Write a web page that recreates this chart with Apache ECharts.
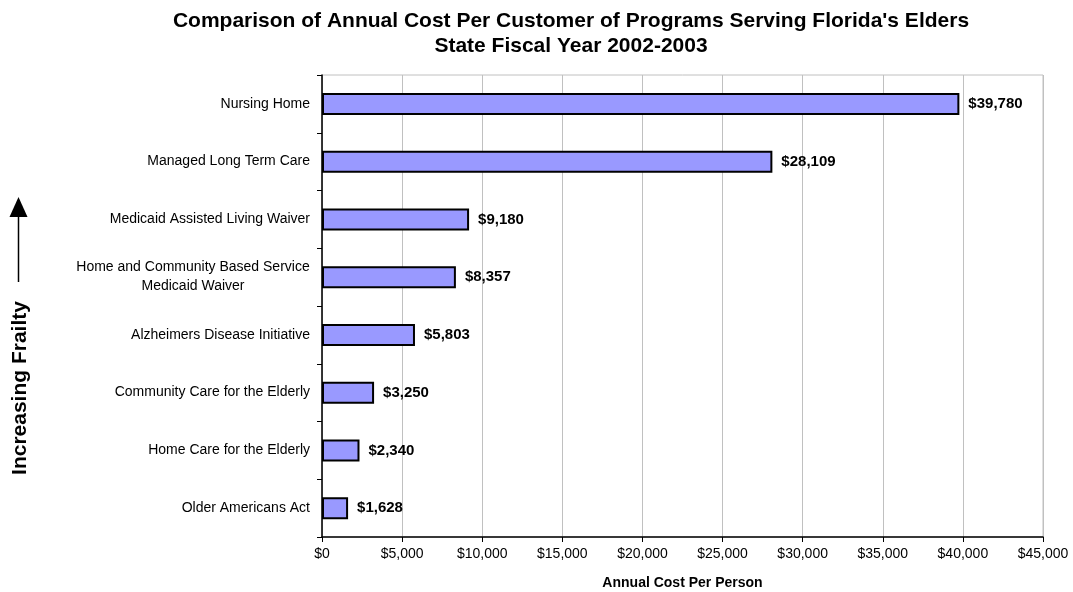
<!DOCTYPE html>
<html>
<head>
<meta charset="utf-8">
<script src="https://cdn.jsdelivr.net/npm/echarts@6/dist/echarts.min.js"></script>
<style>html,body{margin:0;padding:0;background:#fff}#c{width:1073px;height:592px}</style>
</head>
<body>
<div id="c"></div>
<script>
const categories = [
  "Nursing Home",
  "Managed Long Term Care",
  "Medicaid Assisted Living Waiver",
  "Home and Community Based Service\nMedicaid Waiver",
  "Alzheimers Disease Initiative",
  "Community Care for the Elderly",
  "Home Care for the Elderly",
  "Older Americans Act"
];
const costs = [39780, 28109, 9180, 8357, 5803, 3250, 2340, 1628];
const xTicks = { min: 0, max: 45000, interval: 5000 };
const titleLines = ["Comparison of Annual Cost Per Customer of Programs Serving Florida's Elders", "State Fiscal Year 2002-2003"];
const xAxisName = "Annual Cost Per Person";
const frailtyLabel = "Increasing Frailty";

const FONT = "Arial, 'Liberation Sans', sans-serif";
const CAT_SIZE = 14;
const fmt = v => '$' + v.toLocaleString('en-US');

const cv = document.createElement('canvas').getContext('2d');
cv.font = CAT_SIZE + 'px ' + FONT;
const richStyles = {};
categories.forEach(c => {
  const lines = c.split('\n');
  if (lines.length > 1) {
    const w = Math.ceil(Math.max(...lines.map(l => cv.measureText(l).width)));
    richStyles['c' + w] = { width: w, align: 'center', fontFamily: FONT, fontSize: CAT_SIZE, color: '#000', lineHeight: 19 };
  }
});

const chart = echarts.init(document.getElementById('c'));
chart.setOption({
  animation: false,
  title: {
    text: titleLines.join('\n'),
    left: 566, top: 4, textAlign: 'center',
    textStyle: { fontFamily: FONT, fontSize: 21, fontWeight: 'bold', color: '#000', lineHeight: 25 }
  },
  grid: { left: 322, right: 30, top: 75, bottom: 55, show: true, borderColor: '#c0c0c0', borderWidth: 1,
          containLabel: false, outerBoundsMode: 'none' },
  xAxis: {
    type: 'value', min: xTicks.min, max: xTicks.max, interval: xTicks.interval,
    name: xAxisName, nameLocation: 'middle', nameGap: 39,
    nameTextStyle: { fontFamily: FONT, fontSize: 14, fontWeight: 'bold', color: '#000' },
    axisLine: { show: true, lineStyle: { color: '#000', width: 1.5 } },
    axisTick: { show: true, length: 5, lineStyle: { color: '#000' } },
    axisLabel: { formatter: v => fmt(v), fontFamily: FONT, fontSize: 14, color: '#000', margin: 10 },
    splitLine: { show: true, lineStyle: { color: '#c0c0c0', width: 1 } }
  },
  yAxis: {
    type: 'category', data: categories, inverse: true,
    axisLine: { show: true, lineStyle: { color: '#000', width: 1.5 } },
    axisTick: { show: true, length: 5, lineStyle: { color: '#000' } },
    axisLabel: {
      fontFamily: FONT, fontSize: CAT_SIZE, color: '#000', margin: 12, lineHeight: 19,
      formatter: v => {
        const lines = v.split('\n');
        if (lines.length === 1) return v;
        const w = Math.ceil(Math.max(...lines.map(l => cv.measureText(l).width)));
        return lines.map(l => '{c' + w + '|' + l + '}').join('\n');
      },
      rich: richStyles
    },
    splitLine: { show: false }
  },
  series: [{
    type: 'bar', data: costs, barWidth: 22,
    itemStyle: { color: '#9999ff', borderColor: '#000', borderWidth: 2 },
    label: { show: true, position: 'right', distance: 9, formatter: p => fmt(p.value),
      fontFamily: FONT, fontSize: 15, fontWeight: 'bold', color: '#000' }
  }],
  graphic: [
    { type: 'polygon', shape: { points: [[18.5, 197], [9.5, 217], [27.5, 217]] }, style: { fill: '#000' } },
    { type: 'line', shape: { x1: 18.5, y1: 215, x2: 18.5, y2: 282 }, style: { stroke: '#000', lineWidth: 1.5 } },
    { type: 'text', x: 20, y: 388, rotation: Math.PI / 2,
      style: { text: frailtyLabel, font: 'bold 21px ' + FONT, fill: '#000', align: 'center', verticalAlign: 'middle' } }
  ]
});
</script>
</body>
</html>
